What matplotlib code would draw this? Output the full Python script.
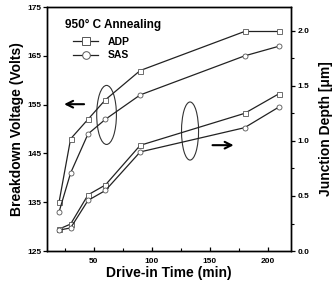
import numpy as np
import matplotlib.pyplot as plt
from matplotlib.patches import Ellipse
from matplotlib.lines import Line2D

plt.rcParams['font.family'] = ['Liberation Sans', 'DejaVu Sans']
plt.rcParams['font.weight'] = 'bold'

# Datos
tiempo = np.array([20, 30, 45, 60, 90, 180, 210])  # min
voltaje_adp = np.array([135, 148, 152, 156, 162, 170, 170])
voltaje_sas = np.array([133, 141, 149, 152, 157, 165, 167])
prof_adp = np.array([0.20, 0.245, 0.51, 0.60, 0.96, 1.25, 1.43])
prof_sas = np.array([0.19, 0.21, 0.46, 0.55, 0.90, 1.12, 1.31])

fig = plt.figure(figsize=(3.34, 2.84), dpi=100)
ax = fig.add_axes([0.142, 0.116, 0.729, 0.859])
ax2 = ax.twinx()

estilo = dict(color='#222222', lw=0.9, mfc='white', mec='#555555', ms=3.6, mew=0.6)
ax.plot(tiempo, voltaje_adp, marker='s', **estilo)
ax.plot(tiempo, voltaje_sas, marker='o', **estilo)
ax2.plot(tiempo, prof_adp, marker='s', **estilo)
ax2.plot(tiempo, prof_sas, marker='o', **estilo)

ax.set_xlim(10, 220)
ax.set_ylim(125, 175)
ax2.set_ylim(0, 2.215)

ax.set_xticks([50, 100, 150, 200])
ax.set_xticks([25, 75, 125, 175], minor=True)
ax.set_yticks([125, 135, 145, 155, 165, 175])
ax2.set_yticks([0.0, 0.5, 1.0, 1.5, 2.0])
ax2.set_yticks([0.25, 0.75, 1.25, 1.75], minor=True)
ax2.set_yticklabels(['0.0', '0.5', '1.0', '1.5', '2.0'])

ax.tick_params(axis='x', direction='in', length=3, width=0.9, labelsize=6, pad=5)
ax.tick_params(axis='x', which='minor', direction='in', length=2, width=0.8)
ax.tick_params(axis='y', direction='out', length=3, width=0.9, labelsize=6, pad=1.5)
ax2.tick_params(axis='y', direction='out', length=3, width=0.9, labelsize=6, pad=2)
ax2.tick_params(axis='y', which='minor', direction='out', length=2, width=0.8)

for a in (ax, ax2):
    for s in a.spines.values():
        s.set_linewidth(1.0)

ax.set_xlabel('Drive-in Time (min)', fontsize=10, fontweight='bold', labelpad=1)
ax.set_ylabel('Breakdown Voltage (Volts)', fontsize=10, fontweight='bold', labelpad=2)
ax2.set_ylabel('Junction Depth [\u03bcm]', fontsize=10, fontweight='bold', labelpad=7)

# Elipses y flechas
ax.add_patch(Ellipse((61, 152.9), 17, 12.1, fill=False, ec='#333333', lw=0.8))
ax.add_patch(Ellipse((133, 149.6), 14.7, 11.9, fill=False, ec='#333333', lw=0.8))
ax.annotate('', xy=(22, 155.1), xytext=(44, 155.1),
            arrowprops=dict(arrowstyle='->', lw=1.5, color='black', mutation_scale=12))
ax.annotate('', xy=(173, 146.7), xytext=(150, 146.7),
            arrowprops=dict(arrowstyle='->', lw=1.5, color='black', mutation_scale=12))

# Leyenda
ax.text(0.072, 0.926, '950\u00b0 C Annealing', transform=ax.transAxes,
        fontsize=8.5, fontweight='bold', va='center', ha='left')
estilo_ley = dict(estilo, ms=5.5, mew=0.7)
manejadores = [Line2D([], [], marker='s', **estilo_ley), Line2D([], [], marker='o', **estilo_ley)]
leg = ax.legend(manejadores, ['ADP', 'SAS'], loc='upper left',
                bbox_to_anchor=(0.107, 0.877), frameon=False, fontsize=7.5,
                handlelength=2.4, labelspacing=0.3, borderpad=0, borderaxespad=0,
                handletextpad=0.9)
for t in leg.get_texts():
    t.set_fontweight('bold')

fig.savefig('out.png', dpi=100)
